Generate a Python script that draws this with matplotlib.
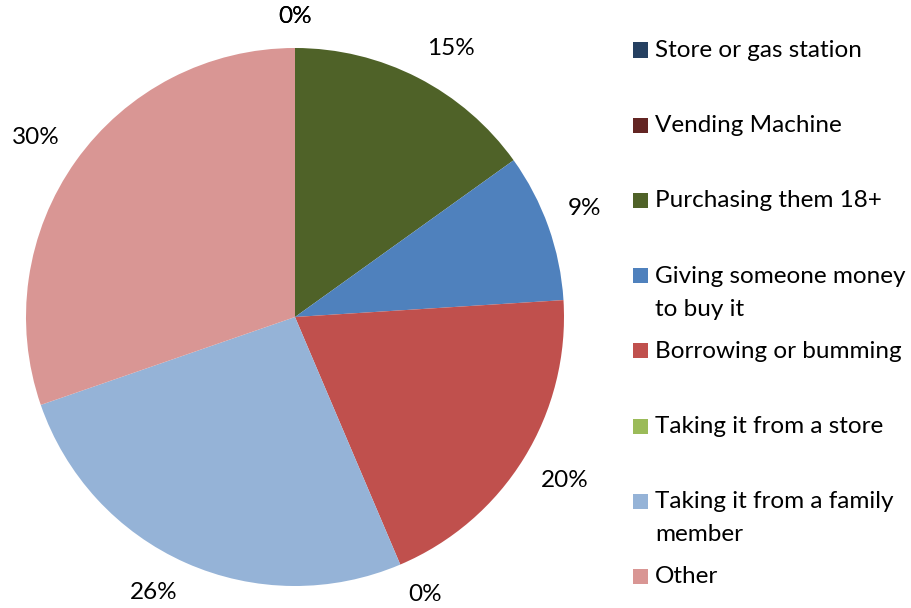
import matplotlib
matplotlib.use("Agg")
import matplotlib.pyplot as plt
import numpy as np
from matplotlib.patches import Rectangle

categories = ["Store or gas station", "Vending Machine", "Purchasing them 18+",
              "Giving someone money\nto buy it", "Borrowing or bumming",
              "Taking it from a store", "Taking it from a family\nmember", "Other"]
values = [0, 0, 15.1, 8.9, 19.6, 0, 26.1, 30.3]
pct_labels = ["0%", "0%", "15%", "9%", "20%", "0%", "26%", "30%"]
colors = ["#254061", "#632523", "#4F6228", "#4F81BD", "#C0504D",
          "#9BBB59", "#95B3D7", "#D99694"]

plt.rcParams['font.family'] = ['Lato', 'DejaVu Sans']
FS = 17.5
W, H = 911, 608
fig = plt.figure(figsize=(W / 100, H / 100), dpi=100)
cx, cy, r = 295, 317, 269
ax = fig.add_axes([(cx - r) / W, (H - cy - r) / H, 2 * r / W, 2 * r / H])

wedges, texts = ax.pie(values, colors=colors, startangle=90, counterclock=False,
                       radius=1.0, wedgeprops=dict(linewidth=0))
ax.set_xlim(-1, 1)
ax.set_ylim(-1, 1)
ax.set_aspect('equal')
ax.axis('off')

# Excel-like "outside end" labels: box corner placed just outside the rim
fig.canvas.draw()
renderer = fig.canvas.get_renderer()
gap = 0.075
px_per_unit = r
for w, lab in zip(wedges, pct_labels):
    ang = np.deg2rad((w.theta1 + w.theta2) / 2)
    c, s = np.cos(ang), np.sin(ang)
    t = ax.text(0, 0, lab, fontsize=FS, ha='center', va='center', clip_on=False)
    bb = t.get_window_extent(renderer)
    hw = bb.width / 2 / px_per_unit
    hh = bb.height / 2 / px_per_unit * 1.1
    sx = 0 if abs(c) < 0.05 else np.sign(c)
    sy = 0 if abs(s) < 0.05 else np.sign(s)
    t.set_position(((1 + gap) * c + sx * hw, (1 + gap) * s + sy * hh))

# legend drawn manually
y0, dy = 50, 75.2
for i, (lab, col) in enumerate(zip(categories, colors)):
    y = y0 + dy * i
    fig.patches.append(Rectangle((633 / W, (H - y - 7.5) / H), 15 / W, 15 / H,
                                 transform=fig.transFigure, facecolor=col,
                                 edgecolor='none'))
    fig.text(655 / W, (H - y + 10) / H, lab, fontsize=FS, ha='left', va='top',
             linespacing=1.7, color='black')

fig.savefig("out.png", dpi=100)
